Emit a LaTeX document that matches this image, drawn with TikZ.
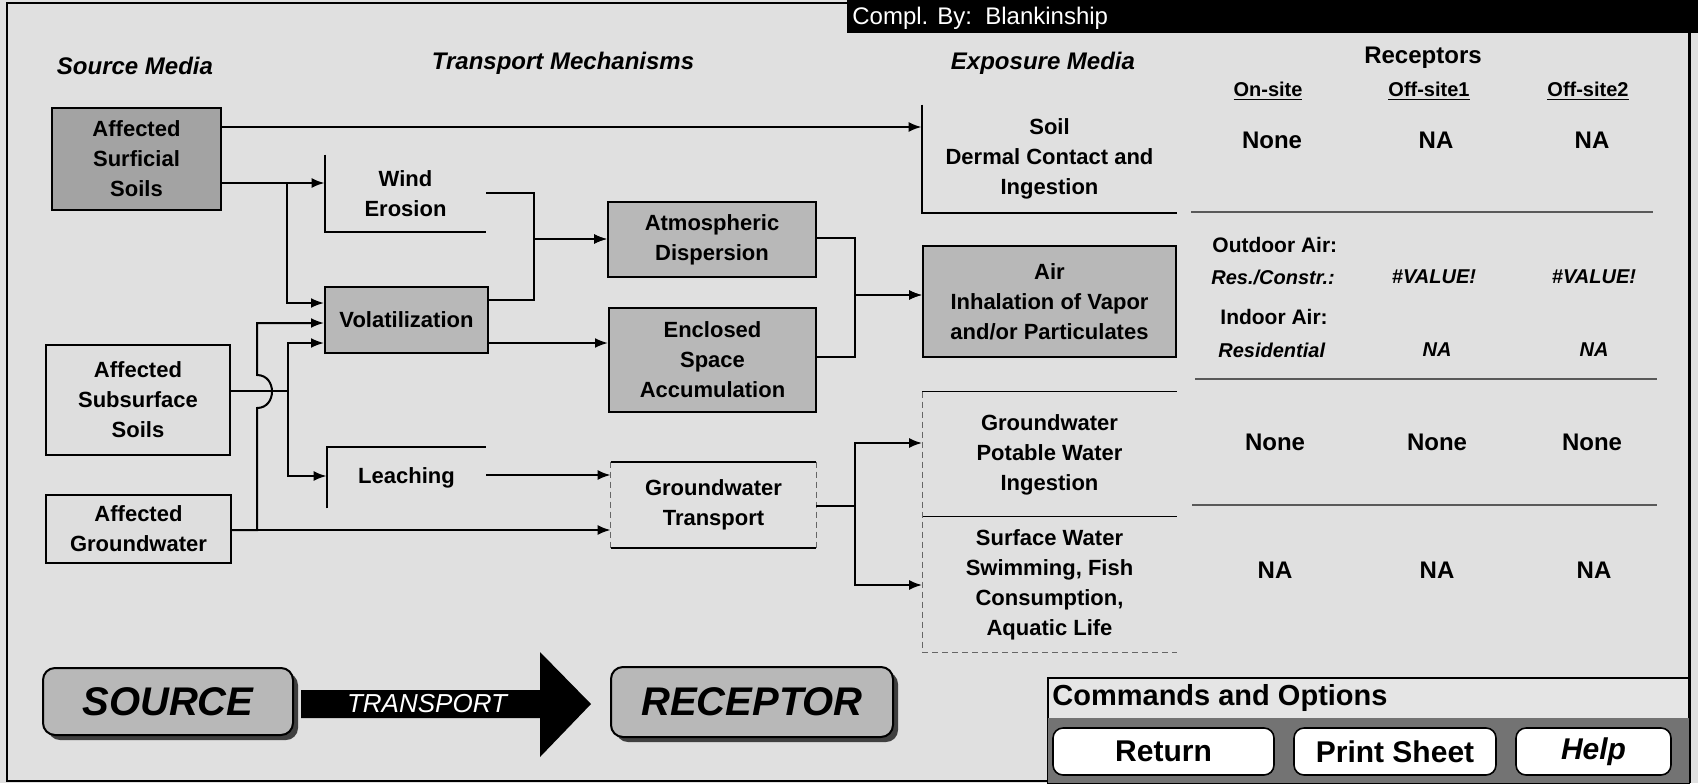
\documentclass[tikz,border=0pt]{standalone}
\usepackage{fontspec}
\setmainfont{Liberation Sans}
\usetikzlibrary{arrows.meta}
\begin{document}
\begin{tikzpicture}[x=0.5pt,y=-0.5pt,
  lbl/.style={font=\bfseries\fontsize{11}{15}\selectfont, align=center, inner sep=0pt},
  solidbox/.style={lbl, draw, line width=1pt},
  dark/.style={fill=black!28},
  darker/.style={fill=black!36},
  light/.style={fill=black!13},
  head/.style={font=\bfseries\itshape\fontsize{12}{14}\selectfont, inner sep=0pt},
  colhead/.style={font=\bfseries\fontsize{10}{12}\selectfont, inner sep=0pt},
  val/.style={font=\bfseries\fontsize{12}{14}\selectfont, inner sep=0pt},
  ival/.style={font=\bfseries\itshape\fontsize{10}{12}\selectfont, inner sep=0pt},
  airlbl/.style={font=\bfseries\fontsize{10.5}{12}\selectfont, inner sep=0pt, anchor=west},
  conn/.style={line width=1pt},
  arr/.style={conn, -{Latex[length=6.5pt,width=5pt]}},
  edgeline/.style={line width=1pt},
  faint/.style={line width=0.6pt, black!60, dash pattern=on 3pt off 2pt},
  divider/.style={line width=0.7pt, black!65},
  bigbtn/.style={draw, line width=1pt, rounded corners=6pt, fill=black!28, font=\bfseries\itshape\fontsize{20}{24}\selectfont, inner sep=0pt},
  cmdbtn/.style={draw, line width=0.8pt, rounded corners=5pt, fill=white, font=\bfseries\fontsize{15}{18}\selectfont, inner sep=0pt, minimum height=23.5pt},
]
\useasboundingbox (0,0) rectangle (1698,783);
\fill[black!12] (0,0) rectangle (1698,783);
% frame
\draw[line width=1pt] (847,3) -- (7,3) -- (7,781) -- (1048,781);
\draw[line width=1.5pt] (1689,33) -- (1689,783);
% title bar
\fill[black] (847,0) rectangle (1698,33);
\node[anchor=west, text=white, font=\fontsize{12}{14}\selectfont, inner sep=0pt] (compl) at (852,18) {Compl. By:\ \ Blankinship};

% headers
\node[head] (hsrc) at (135,66) {Source Media};
\node[head] (htr) at (563,63) {Transport Mechanisms};
\node[head] (hexp) at (1043,63) {Exposure Media};
\node[font=\bfseries\fontsize{12}{14}\selectfont, inner sep=0pt] (hrec) at (1423,58) {Receptors};
\node[colhead] (hon) at (1268,91) {\underline{On-site}};
\node[colhead] (hoff1) at (1429,91) {\underline{Off-site1}};
\node[colhead] (hoff2) at (1588,91) {\underline{Off-site2}};

% source media
\node[solidbox, darker, minimum width=84.5pt, minimum height=51pt] (surf) at (136.5,159) {Affected\\Surficial\\Soils};
\node[solidbox, light, minimum width=92pt, minimum height=55pt] (subs) at (138,400) {Affected\\Subsurface\\Soils};
\node[solidbox, light, minimum width=92.5pt, minimum height=34pt] (gws) at (138.5,529) {Affected\\Groundwater};

% transport mechanisms
\node[lbl, minimum width=80.5pt, minimum height=38.5pt] (wind) at (405.5,193.5) {Wind\\Erosion};
\draw[edgeline] (wind.north west) -- (wind.south west) -- (wind.south east);
\node[solidbox, dark, minimum width=81.5pt, minimum height=33pt] (vol) at (406.5,320) {Volatilization};
\node[lbl, minimum width=79.5pt, minimum height=30.5pt] (leach) at (406.5,477.5) {Leaching};
\draw[edgeline] (leach.south west) -- (leach.north west) -- (leach.north east);
\node[solidbox, dark, minimum width=104pt, minimum height=37.5pt] (atm) at (712,239.5) {Atmospheric\\Dispersion};
\node[solidbox, dark, minimum width=103.5pt, minimum height=52pt] (encl) at (712.5,360) {Enclosed\\Space\\Accumulation};
\node[lbl, minimum width=102.5pt, minimum height=43pt] (gwt) at (713.5,505) {Groundwater\\Transport};
\draw[edgeline] (gwt.north west) -- (gwt.north east);
\draw[edgeline] (gwt.south west) -- (gwt.south east);
\draw[faint] (gwt.north west) -- (gwt.south west);
\draw[faint] (gwt.north east) -- (gwt.south east);

% exposure media
\node[lbl, minimum width=127.5pt, minimum height=54pt] (soil) at (1049.5,159) {Soil\\Dermal Contact and\\Ingestion};
\draw[edgeline] (soil.north west) -- (soil.south west) -- (soil.south east);
\node[solidbox, dark, minimum width=126.5pt, minimum height=55.5pt] (air) at (1049.5,301.5) {Air\\Inhalation of Vapor\\and/or Particulates};
\node[lbl, minimum width=127pt, minimum height=62.5pt] (gwe) at (1049.5,454.5) {Groundwater\\Potable Water\\Ingestion};
\node[lbl, minimum width=127pt, minimum height=67.5pt] (sw) at (1049.5,584.5) {Surface Water\\Swimming, Fish\\Consumption,\\Aquatic Life};
\draw[line width=0.8pt] (gwe.north west) -- (gwe.north east);
\draw[line width=0.8pt] (sw.north west) -- (sw.north east);
\draw[faint] (gwe.north west) -- (sw.south west);
\draw[faint] (sw.south west) -- (sw.south east);

% receptor table
\draw[divider] (1191,212) -- (1653,212);
\draw[divider] (1195,379) -- (1657,379);
\draw[divider] (1192,505) -- (1657,505);
\node[val] (s1) at (1272,140) {None};
\node[val] (s2) at (1436,140) {NA};
\node[val] (s3) at (1592,140) {NA};
\node[airlbl] (oa) at (1212,245) {Outdoor Air:};
\node[airlbl, font=\bfseries\itshape\fontsize{10}{12}\selectfont] (rc) at (1211,277) {Res./Constr.:};
\node[ival] (a1) at (1434,277) {\#VALUE!};
\node[ival] (a2) at (1594,277) {\#VALUE!};
\node[airlbl] (ia) at (1220,317) {Indoor Air:};
\node[airlbl, font=\bfseries\itshape\fontsize{10}{12}\selectfont] (rs) at (1218,350) {Residential};
\node[ival] (a3) at (1437,350) {NA};
\node[ival] (a4) at (1594,350) {NA};
\node[val] (g1) at (1275,442) {None};
\node[val] (g2) at (1437,442) {None};
\node[val] (g3) at (1592,442) {None};
\node[val] (w1) at (1275,570) {NA};
\node[val] (w2) at (1437,570) {NA};
\node[val] (w3) at (1594,570) {NA};

% connectors
\draw[arr] (surf.east |- 0,127) -- (soil.west |- 0,127);
\draw[arr] (surf.east |- 0,183) -- (wind.west |- 0,183);
\draw[arr] (surf.east |- 0,183) -| (287,303) -- (vol.west |- 0,303);
\draw[arr] (subs.east |- 0,391) -| (288,343) -- (vol.west |- 0,343);
\draw[arr] (subs.east |- 0,391) -| (288,476) -- (leach.west |- 0,476);
\draw[arr] (gws.east |- 0,530) -- (gwt.west |- 0,530);
\draw[arr] (gws.east |- 0,530) -- (257,530) -- (257,408) .. controls (277,408) and (277,375) .. (257,375) -- (257,323) -- (vol.west |- 0,323);
\draw[arr] (wind.east |- 0,193) -- (534,193) |- (atm.west |- 0,239);
\draw[arr] (vol.east |- 0,300) -- (534,300) |- (atm.west |- 0,239);
\draw[arr] (vol.east |- 0,343) -- (encl.west |- 0,343);
\draw[arr] (leach.east |- 0,475) -- (gwt.west |- 0,475);
\draw[arr] (atm.east |- 0,238) -- (855,238) |- (air.west |- 0,295);
\draw[arr] (encl.east |- 0,357) -- (855,357) |- (air.west |- 0,295);
\draw[arr] (gwt.east |- 0,506) -- (855,506) |- (gwe.west |- 0,443);
\draw[arr] (gwt.east |- 0,506) -- (855,506) |- (sw.west |- 0,585);

% source - transport - receptor
\fill[black!75, rounded corners=6pt] (48,673) rectangle (298,740);
\node[bigbtn, minimum width=125pt, minimum height=33.5pt] (source) at (168,701.5) {SOURCE};
\fill[black!75, rounded corners=6pt] (616,672) rectangle (898,742);
\node[bigbtn, minimum width=141pt, minimum height=35pt] (receptor) at (752,702) {RECEPTOR};
\fill[black] (301,690) -- (540,690) -- (540,652) -- (591,704) -- (540,757) -- (540,718) -- (301,718) -- cycle;
\node[text=white, font=\itshape\fontsize{13}{15}\selectfont, inner sep=0pt] (transport) at (427,704) {TRANSPORT};

% commands and options
\draw[line width=0.8pt, fill=black!10] (1048,678) rectangle (1689,783);
\node[anchor=west, font=\bfseries\fontsize{14.5}{16}\selectfont, inner sep=0pt] (cmd) at (1052,698) {Commands and Options};
\fill[black!55] (1048,718) rectangle (1689,783);
\node[cmdbtn, minimum width=110.5pt] (ret) at (1163.5,751.5) {Return};
\node[cmdbtn, minimum width=101pt] (prt) at (1395,751.5) {Print Sheet};
\node[cmdbtn, minimum width=77.5pt, font=\bfseries\itshape\fontsize{15}{18}\selectfont] (hlp) at (1593.5,751.5) {Help};
\end{tikzpicture}
\end{document}
